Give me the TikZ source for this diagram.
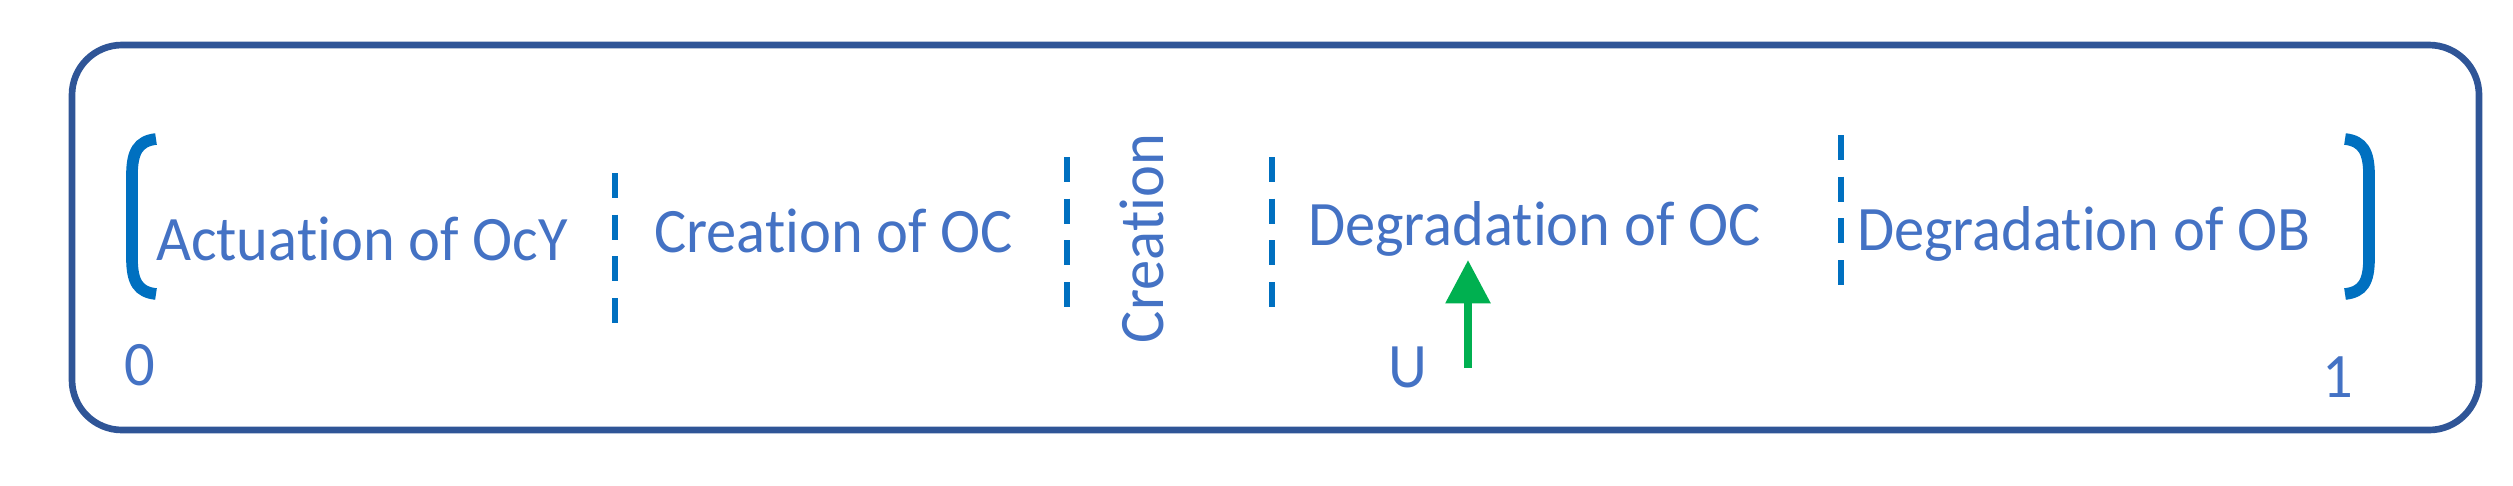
\documentclass[tikz,border=0pt]{standalone}
\usepackage{fontspec}
\setmainfont[FakeStretch=0.955,RawFeature=-liga]{Carlito}
\usetikzlibrary{arrows.meta}
\definecolor{boxblue}{HTML}{2F5597}
\definecolor{txtblue}{HTML}{4472C4}
\definecolor{linblue}{HTML}{0070C0}
\definecolor{arrgreen}{HTML}{00B050}
\tikzset{
  lbl/.style={inner sep=0pt, outer sep=0pt, text=txtblue, font=\fontsize{19}{22}\selectfont, anchor=base west},
  sep/.style={draw=linblue, line width=1.8pt, dash pattern=on 7.5pt off 5pt},
  brk/.style={draw=linblue, line width=3.5pt},
  frame/.style={draw=boxblue, line width=2pt, rounded corners=15pt},
  mark arrow/.style={draw=arrgreen, line width=2.4pt, -{Triangle[length=13pt,width=13pt]}}
}
\begin{document}
\begin{tikzpicture}[x=0.3pt,y=-0.3pt]
\useasboundingbox (0,0) rectangle (2513,485);
\draw[frame] (72,45) rectangle (2479,430);
% brackets
\draw[brk] (156,139) .. controls (138,141) and (132,152) .. (132,175) -- (132,258) .. controls (132,282) and (138,292) .. (156,294);
\draw[brk] (2345,139) .. controls (2363,141) and (2369,152) .. (2369,175) -- (2369,258) .. controls (2369,282) and (2363,292) .. (2345,294);
% separators
\coordinate (s1t) at (615,173); \coordinate (s1b) at (615,323);
\coordinate (s2t) at (1067,157); \coordinate (s2b) at (1067,307);
\coordinate (s3t) at (1272,157); \coordinate (s3b) at (1272,307);
\coordinate (s4t) at (1841,135); \coordinate (s4b) at (1841,285);
\draw[sep] (s1t) -- (s1b);
\draw[sep] (s2t) -- (s2b);
\draw[sep] (s3t) -- (s3b);
\draw[sep] (s4t) -- (s4b);
% labels
\node[lbl] (act) at (156,260) {Actuation of OcY};
\node[lbl] (coc) at (654,252) {Creation of OC};
\node[lbl, rotate=90] (cre) at (1163,343) {Creation};
\node[lbl] (doc) at (1308,245) {Degradation of OC};
\node[lbl] (dob) at (1857,250) {Degradation of OB};
\node[lbl] (zero) at (124,385) {0};
\node[lbl] (u) at (1388,387) {U};
\node[lbl] (one) at (2322,397) {1};
% arrow
\coordinate (atail) at (1468,368);
\coordinate (atip) at (1468,260);
\draw[mark arrow] (atail) -- (atip);
\end{tikzpicture}
\end{document}
